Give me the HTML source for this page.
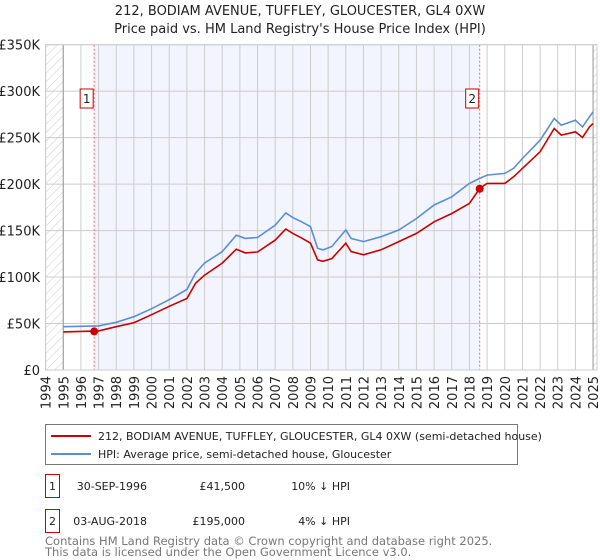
<!DOCTYPE html>
<html><head><meta charset="utf-8"><style>
body{margin:0;background:#fff;font-family:"Liberation Sans","DejaVu Sans",sans-serif;}
#wrap{position:relative;width:600px;height:560px;overflow:hidden;}
svg text{font-family:"DejaVu Sans","Liberation Sans",sans-serif;}
</style></head><body>
<div id="wrap">
<svg id="chart" width="600" height="560" viewBox="0 0 600 560">
<defs>
<pattern id="hatch" width="6" height="6" patternUnits="userSpaceOnUse" patternTransform="rotate(45)">
<line x1="0" y1="0" x2="0" y2="6" stroke="#ccc" stroke-width="1"/>
</pattern>
</defs>
<text x="300" y="15" text-anchor="middle" font-size="13" fill="#222">212, BODIAM AVENUE, TUFFLEY, GLOUCESTER, GL4 0XW</text>
<text x="300" y="33" text-anchor="middle" font-size="13" fill="#222">Price paid vs. HM Land Registry's House Price Index (HPI)</text>
<g id="plot"></g>
</svg>
</div>
<script>
const hpiYears=[1995,1997,1998,1999,2000,2001,2002,2002.5,2003,2004,2004.8,2005.3,2006,2007,2007.6,2008,2008.5,2009,2009.4,2009.7,2010.2,2011,2011.3,2012,2013,2014,2015,2016,2017,2018,2018.58,2019,2020,2020.5,2021,2022,2022.8,2023.2,2024,2024.4,2024.8,2025];
const hpiValues=[46.6,47.5,51.3,57.4,66,75.6,86.6,104.5,115,127.3,145,141.6,142.6,155.9,169,164,159.5,154.2,131,129.2,132.8,150.6,141.6,138.1,143.4,150.6,163,177.5,186.4,200.8,206.1,209.7,211.5,216.9,227.6,247.3,270.6,263.4,268.8,261.6,272.4,277.8];
const priceValues=[41,42.1,46.6,50.9,59.5,68.5,76.9,93.5,102,115,130,126,127,139.8,151.7,147,141.9,136.4,118.5,117,119.7,136.4,127.5,123.9,129.3,138.1,147,159.5,168.4,179.2,195.3,200.8,200.8,207.9,216.9,234.8,259.8,252.7,256.3,250.2,261.6,265.2];
const yTicks=[0,50,100,150,200,250,300,350];
const yTickLabels=["£0","£50K","£100K","£150K","£200K","£250K","£300K","£350K"];
const xTicks=[1994,1995,1996,1997,1998,1999,2000,2001,2002,2003,2004,2005,2006,2007,2008,2009,2010,2011,2012,2013,2014,2015,2016,2017,2018,2019,2020,2021,2022,2023,2024,2025];
const saleYears=[1996.75,2018.58];
const saleValues=[41.5,195];
const saleLabels=["1","2"];

const L=45.6,R=597,T=44.7,B=370;
const X=y=>45.6+(y-1994)*17.66;
const Y=v=>B-v*(B-T)/350;
const NS="http://www.w3.org/2000/svg";
const g=document.getElementById('plot');
function mk(t,a,p){const e=document.createElementNS(NS,t);for(const k in a)e.setAttribute(k,a[k]);(p||g).appendChild(e);return e;}

let e;
e=mk('rect',{x:X(saleYears[0]),y:T,width:X(saleYears[1])-X(saleYears[0]),height:B-T,fill:'#f2f5fd'});


e=mk('rect',{x:L,y:T,width:X(1995)-L,height:B-T,fill:'url(#hatch)'});


e=mk('rect',{x:X(2025),y:T,width:R-X(2025),height:B-T,fill:'url(#hatch)'});



yTicks.forEach((v,i)=>{
 e=mk('line',{x1:L,x2:R,y1:Y(v),y2:Y(v),stroke:'#ccc','stroke-width':1});
 
 
 e=mk('text',{x:40,y:Y(v)+5,'text-anchor':'end','font-size':13,fill:'#222'});
 e.textContent=yTickLabels[i];
 
 
});
xTicks.forEach(yr=>{
 e=mk('line',{x1:X(yr),x2:X(yr),y1:T,y2:B,stroke:'#ccc','stroke-width':1});
 
 
 e=mk('text',{x:0,y:0,'text-anchor':'end','font-size':13,fill:'#222',transform:`translate(${X(yr)+5},376) rotate(-90)`});
 e.textContent=yr;
 
 
});
e=mk('line',{x1:X(1995),x2:X(1995),y1:T,y2:B,stroke:'#999'});


e=mk('line',{x1:X(2025),x2:X(2025),y1:T,y2:B,stroke:'#999'});



saleYears.forEach(s=>{
 e=mk('line',{x1:X(s),x2:X(s),y1:T,y2:B,stroke:'#f66','stroke-dasharray':'2,2'});
 
 
});

const pts=(vals)=>hpiYears.map((yr,i)=>X(yr).toFixed(1)+','+Y(vals[i]).toFixed(1)).join(' ');
e=mk('polyline',{points:pts(hpiValues),fill:'none',stroke:'#5b8dd6','stroke-width':1.6});


e=mk('polyline',{points:pts(priceValues),fill:'none',stroke:'#cc0000','stroke-width':1.6});



saleYears.forEach((s,i)=>{
 e=mk('circle',{cx:X(s),cy:Y(saleValues[i]),r:4,fill:'#cc0000'});
 
 
 const bx=X(s)-14;
 e=mk('rect',{x:bx,y:89,width:13,height:19,fill:'#fff',stroke:'#cc0000'});
 
 
 e=mk('text',{x:bx+6.5,y:103,'text-anchor':'middle','font-size':12,fill:'#222'});
 e.textContent=saleLabels[i];
 
 
});
e=mk('rect',{x:L,y:T,width:R-L,height:B-T,fill:'none',stroke:'#ccc'});



// legend
const lg=mk('g',{});


mk('rect',{x:45.5,y:424.5,width:472,height:40,fill:'#fff',stroke:'#777'},lg);
mk('line',{x1:51,x2:91,y1:436,y2:436,stroke:'#cc0000','stroke-width':2},lg);
mk('line',{x1:51,x2:91,y1:454,y2:454,stroke:'#5b8dd6','stroke-width':2},lg);
e=mk('text',{x:98,y:440,'font-size':11,fill:'#222'},lg);
e.textContent='212, BODIAM AVENUE, TUFFLEY, GLOUCESTER, GL4 0XW (semi-detached house)';


e=mk('text',{x:98,y:458,'font-size':11,fill:'#222'},lg);
e.textContent='HPI: Average price, semi-detached house, Gloucester';



// table
const rows=[["1","30-SEP-1996","£41,500","10% ↓ HPI",474.5],["2","03-AUG-2018","£195,000","4% ↓ HPI",509.5]];
rows.forEach(r=>{
 const rg=mk('g',{});
 
 
 mk('rect',{x:45.5,y:r[4],width:14,height:23,fill:'#fff',stroke:'#cc0000'},rg);
 const tx=(x,a,s)=>{const t=mk('text',{x:x,y:r[4]+15.5,'text-anchor':a,'font-size':11,fill:'#222'},rg);t.textContent=s;return t;};
 tx(52.5,'middle',r[0]);
 tx(147,'end',r[1]);
 tx(245,'end',r[2]);
 tx(350,'end',r[3]);
});
e=mk('text',{x:45,y:545,'font-size':11.5,fill:'#777'});
e.textContent='Contains HM Land Registry data © Crown copyright and database right 2025.';


e=mk('text',{x:45,y:556,'font-size':11.5,fill:'#777'});
e.textContent='This data is licensed under the Open Government Licence v3.0.';


</script>
</body></html>
